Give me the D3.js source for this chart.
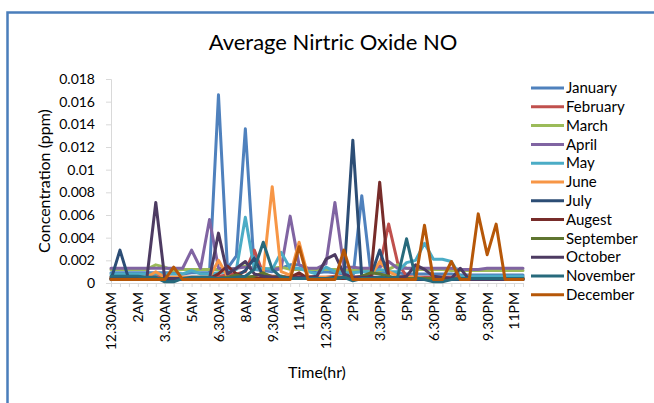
<!DOCTYPE html>
<html>
<head>
<meta charset="utf-8">
<script src="https://cdn.jsdelivr.net/npm/d3@7"></script>
<style>
  body { margin: 0; background: #fff; }
  #chart { width: 654px; height: 403px; }
  text { font-family: Lato, "Open Sans", sans-serif; fill: #000; }
</style>
</head>
<body>
<div id="chart"></div>
<script>
let times = ["12.30AM","1AM","1.30AM","2AM","2.30AM","3AM","3.30AM","4AM","4.30AM","5AM","5.30AM","6AM",
             "6.30AM","7AM","7.30AM","8AM","8.30AM","9AM","9.30AM","10AM","10.30AM","11AM","11.30AM","12PM",
             "12.30PM","1PM","1.30PM","2PM","2.30PM","3PM","3.30PM","4PM","4.30PM","5PM","5.30PM","6PM",
             "6.30PM","7PM","7.30PM","8PM","8.30PM","9PM","9.30PM","10PM","10.30PM","11PM","11.30PM"];

let yTicks = [0, 0.002, 0.004, 0.006, 0.008, 0.01, 0.012, 0.014, 0.016, 0.018];
let yTickLabels = ["0", "0.002", "0.004", "0.006", "0.008", "0.01", "0.012", "0.014", "0.016", "0.018"];

let months = ["January","February","March","April","May","June","July","Augest","September","October","November","December"];
let colors = ["#4F81BD","#C0504D","#9BBB59","#8064A2","#4BACC6","#F79646","#2C4D75","#772C2A","#5F7530","#4D3B62","#276A7C","#B65708"];

let january = [
  .0009,.0009,.0009,.0009,.0009,.0009,.0009,.0009,.0008,.0009,.0009,.0009,
  .0166,.0013,.0024,.0136,.0012,.0011,.0010,.0013,.0016,.0016,.0012,.0009,
  .0010,.0009,.0008,.0004,.0077,.0009,.0010,.0009,.0009,.0008,.0008,.0008,
  .0008,.0008,.0008,.0007,.0007,.0007,.0007,.0007,.0007,.0007,.0007];
let february = [
  .0005,.0005,.0005,.0005,.0005,.0006,.0005,.0005,.0005,.0005,.0005,.0005,
  .0006,.0007,.0008,.0010,.0029,.0008,.0006,.0006,.0005,.0006,.0005,.0005,
  .0005,.0006,.0005,.0005,.0006,.0006,.0015,.0052,.0018,.0006,.0005,.0005,
  .0005,.0005,.0005,.0005,.0005,.0005,.0005,.0005,.0005,.0005,.0005];
let march = [
  .0012,.0012,.0012,.0012,.0012,.0016,.0014,.0011,.0012,.0012,.0012,.0012,
  .0012,.0012,.0013,.0015,.0013,.0012,.0013,.0014,.0012,.0012,.0012,.0012,
  .0012,.0012,.0011,.0011,.0012,.0012,.0011,.0012,.0016,.0013,.0012,.0012,
  .0012,.0012,.0011,.0011,.0011,.0011,.0011,.0011,.0011,.0011,.0011];
let april = [
  .0013,.0013,.0013,.0013,.0013,.0013,.0013,.0013,.0013,.0029,.0013,.0056,
  .0013,.0012,.0013,.0014,.0013,.0012,.0012,.0013,.0059,.0016,.0013,.0013,
  .0017,.0071,.0014,.0014,.0013,.0013,.0014,.0019,.0013,.0013,.0013,.0013,
  .0013,.0013,.0013,.0012,.0012,.0012,.0013,.0013,.0013,.0013,.0013];
let may = [
  .0008,.0008,.0008,.0008,.0008,.0008,.0008,.0008,.0008,.0011,.0008,.0008,
  .0009,.0010,.0012,.0058,.0012,.0013,.0012,.0027,.0013,.0013,.0010,.0008,
  .0014,.0010,.0009,.0009,.0010,.0010,.0012,.0010,.0010,.0018,.0020,.0035,
  .0021,.0021,.0019,.0006,.0006,.0006,.0006,.0006,.0006,.0006,.0006];
let june = [
  .0005,.0005,.0005,.0005,.0005,.0010,.0005,.0005,.0005,.0005,.0005,.0005,
  .0020,.0006,.0005,.0005,.0005,.0010,.0085,.0010,.0007,.0036,.0006,.0005,
  .0005,.0005,.0005,.0005,.0005,.0006,.0019,.0010,.0006,.0005,.0005,.0004,
  .0004,.0004,.0004,.0004,.0004,.0004,.0004,.0004,.0004,.0004,.0004];
let july = [
  .0003,.0029,.0003,.0003,.0003,.0003,.0003,.0003,.0003,.0003,.0003,.0003,
  .0004,.0005,.0006,.0011,.0022,.0006,.0004,.0004,.0004,.0004,.0004,.0004,
  .0004,.0005,.0004,.0126,.0005,.0006,.0029,.0005,.0004,.0003,.0003,.0003,
  .0003,.0003,.0003,.0003,.0003,.0003,.0003,.0003,.0003,.0003,.0003];
let augest = [
  .0004,.0004,.0004,.0004,.0004,.0004,.0004,.0004,.0004,.0004,.0004,.0004,
  .0008,.0015,.0008,.0005,.0004,.0004,.0004,.0004,.0005,.0009,.0004,.0004,
  .0004,.0004,.0004,.0004,.0004,.0005,.0089,.0005,.0004,.0004,.0004,.0004,
  .0004,.0004,.0004,.0004,.0004,.0004,.0004,.0004,.0004,.0004,.0004];
let september = [
  .0004,.0004,.0004,.0004,.0004,.0004,.0004,.0004,.0004,.0004,.0004,.0004,
  .0004,.0005,.0007,.0005,.0006,.0009,.0005,.0006,.0004,.0004,.0004,.0004,
  .0004,.0004,.0005,.0004,.0006,.0009,.0008,.0006,.0004,.0004,.0004,.0004,
  .0004,.0004,.0004,.0004,.0004,.0004,.0004,.0004,.0004,.0004,.0004];
let october = [
  .0004,.0004,.0004,.0004,.0004,.0071,.0004,.0004,.0004,.0004,.0004,.0004,
  .0044,.0008,.0013,.0019,.0008,.0006,.0005,.0005,.0004,.0005,.0005,.0006,
  .0021,.0025,.0008,.0005,.0005,.0005,.0005,.0004,.0005,.0006,.0016,.0012,
  .0006,.0005,.0004,.0013,.0003,.0003,.0003,.0003,.0003,.0003,.0003];
let november = [
  .0006,.0006,.0006,.0006,.0005,.0005,.0001,.0001,.0004,.0005,.0005,.0005,
  .0004,.0004,.0005,.0006,.0012,.0036,.0012,.0005,.0004,.0004,.0004,.0004,
  .0004,.0004,.0005,.0002,.0004,.0004,.0005,.0004,.0005,.0039,.0005,.0003,
  .0001,.0001,.0003,.0004,.0004,.0004,.0004,.0004,.0004,.0004,.0004];
let december = [
  .0003,.0003,.0003,.0003,.0003,.0003,.0003,.0014,.0003,.0003,.0003,.0003,
  .0003,.0003,.0003,.0003,.0003,.0003,.0003,.0003,.0003,.0032,.0003,.0003,
  .0003,.0003,.0029,.0003,.0003,.0003,.0003,.0003,.0003,.0003,.0003,.0051,
  .0003,.0003,.0019,.0003,.0003,.0061,.0025,.0052,.0003,.0003,.0003];

let seriesValues = [january, february, march, april, may, june, july, augest, september, october, november, december];

function drawChart(rootElement) {
    let width = 654, height = 403;
    let left = 111, right = 523, top = 79, bottom = 283;

    let svg = d3.select("#" + rootElement).append("svg")
                .attr("width", width)
                .attr("height", height);

    // outer chart border (only top and left are in view)
    svg.append("rect")
       .attr("x", 7.5).attr("y", 12.5)
       .attr("width", 700).attr("height", 450)
       .attr("fill", "none")
       .attr("stroke", "#4A7EBB")
       .attr("stroke-width", 2.5);

    svg.append("text")
       .attr("x", 333).attr("y", 50)
       .attr("text-anchor", "middle")
       .style("font-size", "22px")
       .text("Average Nirtric Oxide NO");

    let x = d3.scalePoint().domain(times).range([left, right]);
    let y = d3.scaleLinear().domain([0, 0.018]).range([bottom, top]);

    let yAxis = svg.append("g")
       .attr("transform", "translate(" + left + ",0)")
       .call(d3.axisLeft(y).tickValues(yTicks).tickSize(5)
             .tickFormat((d, i) => yTickLabels[i]));
    yAxis.select(".domain").attr("stroke", "#D9D9D9");
    yAxis.selectAll(".tick line").attr("stroke", "#D9D9D9");
    yAxis.selectAll(".tick text")
         .attr("x", -16)
         .style("font-size", "14px")
         .style("font-family", "Lato, sans-serif");

    let xAxis = svg.append("g")
       .attr("transform", "translate(0," + bottom + ")")
       .call(d3.axisBottom(x).tickSize(4).tickSizeOuter(0)
             .tickFormat((d, i) => i % 3 === 0 ? d : ""));
    xAxis.select(".domain").attr("stroke", "#D9D9D9");
    xAxis.selectAll(".tick line").attr("stroke", "#D9D9D9");
    xAxis.selectAll(".tick text")
         .attr("transform", "rotate(-90)")
         .attr("x", -9).attr("y", 0).attr("dy", "0.35em")
         .attr("text-anchor", "end")
         .style("font-size", "14px")
         .style("font-family", "Lato, sans-serif");

    svg.append("text")
       .attr("transform", "translate(50,181) rotate(-90)")
       .attr("text-anchor", "middle")
       .style("font-size", "16px")
       .text("Concentration (ppm)");

    svg.append("text")
       .attr("x", 317).attr("y", 378)
       .attr("text-anchor", "middle")
       .style("font-size", "16px")
       .text("Time(hr)");

    let line = d3.line()
                 .x((d, i) => x(times[i]))
                 .y(d => y(d));

    svg.append("g").selectAll("path")
       .data(seriesValues)
       .join("path")
       .attr("d", line)
       .attr("fill", "none")
       .attr("stroke", (d, i) => colors[i])
       .attr("stroke-width", 3)
       .attr("stroke-linejoin", "round")
       .attr("stroke-linecap", "round");

    let legend = svg.append("g").selectAll("g")
       .data(months)
       .join("g")
       .attr("transform", (d, i) => "translate(531," + (88 + i * 18.8) + ")");

    legend.append("line")
          .attr("x1", 0).attr("x2", 33)
          .attr("stroke", (d, i) => colors[i])
          .attr("stroke-width", 3);

    legend.append("text")
          .attr("x", 35).attr("dy", "0.35em")
          .style("font-size", "15px")
          .text(d => d);
}

drawChart("chart");
</script>
</body>
</html>
